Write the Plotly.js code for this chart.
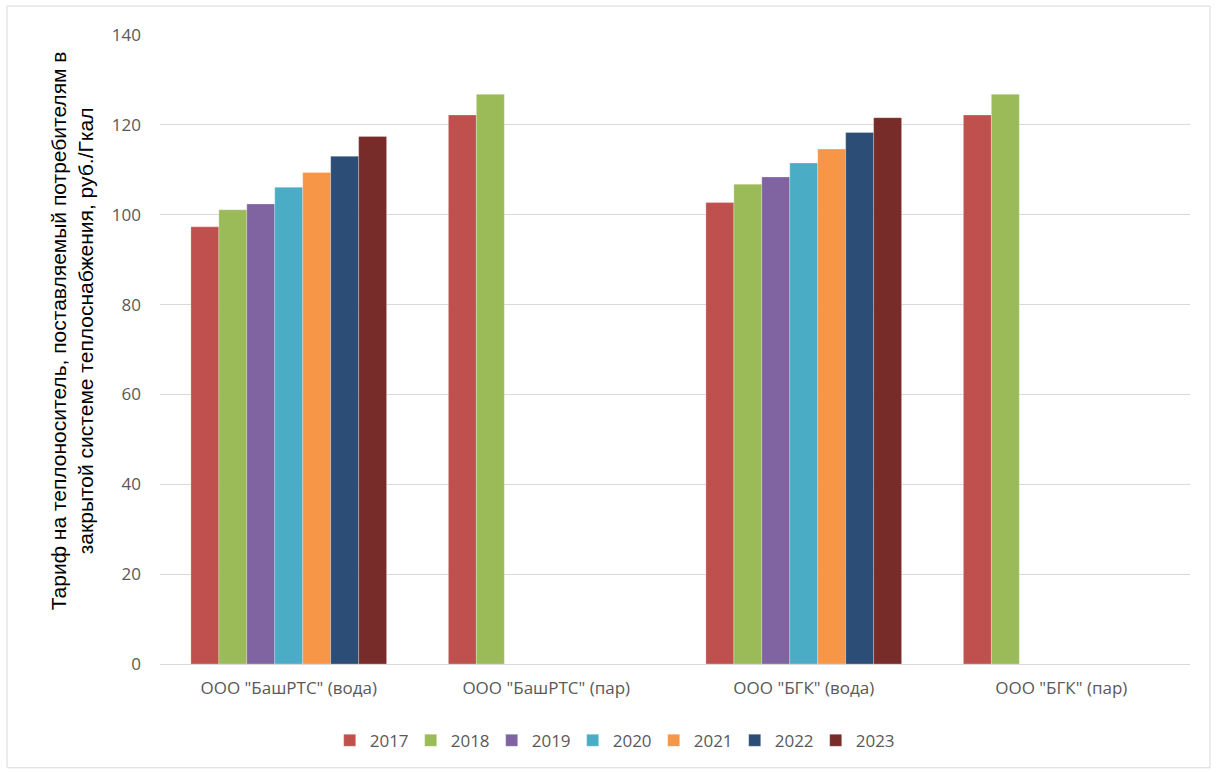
<!DOCTYPE html>
<html><head><meta charset="utf-8">
<script src="https://cdn.plot.ly/plotly-3.0.1.min.js"></script>
<style>html,body{margin:0;padding:0;background:#fff}#chart{width:1216px;height:772px}</style>
</head><body><div id="chart"></div>
<script>
const categories = ['ООО "БашРТС" (вода)', 'ООО "БашРТС" (пар)', 'ООО "БГК" (вода)', 'ООО "БГК" (пар)'];
const years = ['2017','2018','2019','2020','2021','2022','2023'];
const colors = ['#C0504D','#9BBB59','#8064A2','#4BACC6','#F79646','#2C4D75','#772C2A'];
const v2017 = [97.3, 122.2, 102.7, 122.2];
const v2018 = [101.1, 126.8, 106.8, 126.8];
const v2019 = [102.4, null, 108.4, null];
const v2020 = [106.1, null, 111.5, null];
const v2021 = [109.4, null, 114.6, null];
const v2022 = [113.0, null, 118.3, null];
const v2023 = [117.4, null, 121.6, null];
const series = [v2017, v2018, v2019, v2020, v2021, v2022, v2023];
const yTitle = 'Тариф на теплоноситель, поставляемый потребителям в<br>закрытой системе теплоснабжения, руб./Гкал';

const traces = series.map((vals, i) => ({
  type: 'bar', name: years[i], x: categories, y: vals,
  marker: {color: colors[i], line: {color: 'rgba(255,255,255,0.5)', width: 0.5}},
  hoverinfo: 'x+y+name'
}));

const font = '"Open Sans", Lato, sans-serif';
const layout = {
  width: 1216, height: 772,
  margin: {l: 160, r: 26, t: 35, b: 108},
  paper_bgcolor: '#fff', plot_bgcolor: '#fff',
  barmode: 'group', bargap: 0.24, bargroupgap: 0,
  showlegend: true,
  legend: {orientation: 'h', x: 0.44, xanchor: 'center', y: -0.122, yanchor: 'middle',
    font: {family: font, size: 17, color: '#595959'}, entrywidth: 36, entrywidthmode: 'pixels',
    itemwidth: 30, traceorder: 'normal'},
  xaxis: {type: 'category', showline: false, ticks: '', showgrid: false, ticklabelstandoff: 12,
    tickfont: {family: font, size: 17, color: '#595959'}, automargin: false},
  yaxis: {range: [0, 140], dtick: 20, tick0: 0, showgrid: true, gridcolor: '#d9d9d9', gridwidth: 1,
    zeroline: true, zerolinecolor: '#d9d9d9', zerolinewidth: 1, showline: false, ticks: '',
    ticklen: 0, ticklabelstandoff: 18, tickfont: {family: font, size: 17, color: '#595959'}, automargin: false},
  annotations: [{text: yTitle, xref: 'paper', yref: 'paper', x: -0.0854, y: 0.529,
    xanchor: 'center', yanchor: 'middle', textangle: -90, showarrow: false, align: 'center',
    font: {family: '"Liberation Sans", sans-serif', size: 21, color: '#000'}}],
  shapes: [{type: 'rect', xref: 'paper', yref: 'paper', x0: -0.1485, x1: 1.0194, y0: -0.165, y1: 1.046,
    line: {color: '#d9d9d9', width: 1}, fillcolor: 'rgba(0,0,0,0)', layer: 'below'}]
};
Plotly.newPlot('chart', traces, layout, {displayModeBar: false, staticPlot: true});
</script></body></html>
